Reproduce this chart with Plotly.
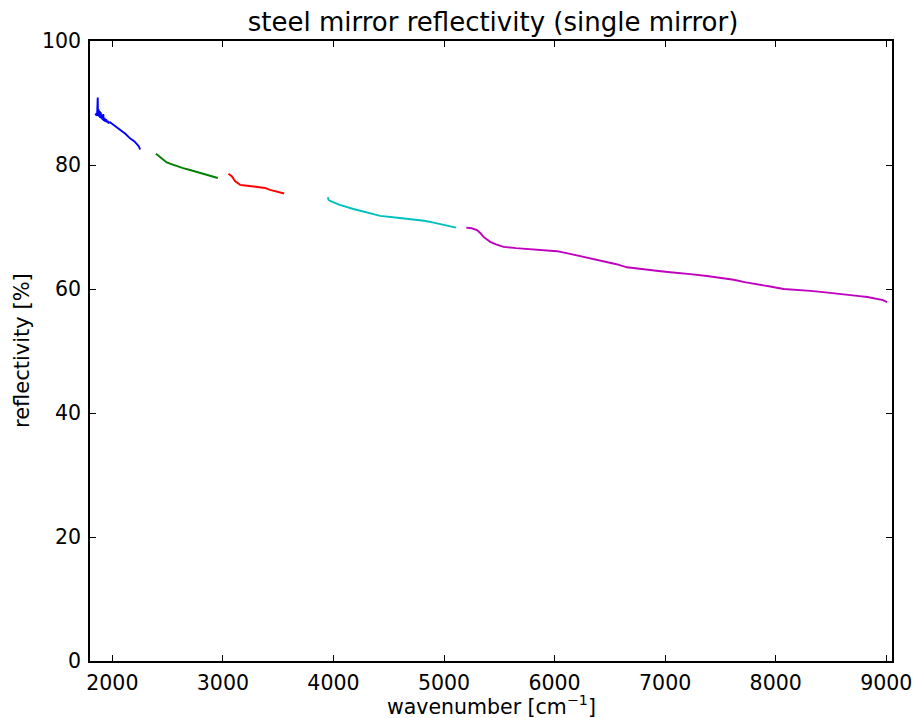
import plotly.graph_objects as go

# wavenumber [cm^-1] and reflectivity [%]
blue_x = [1848, 1852, 1858, 1862, 1868, 1870, 1876, 1880, 1886, 1890, 1896, 1900, 1906, 1910, 1918, 1922, 1930, 1935, 1944, 1950, 1958, 1965, 1979, 2000, 2030, 2070, 2120, 2160, 2200, 2220, 2240, 2251]
blue_y = [88.3, 88.0, 88.4, 87.9, 90.9, 88.0, 89.0, 87.8, 88.7, 87.6, 88.5, 87.5, 88.0, 87.3, 88.2, 87.1, 87.6, 87.0, 87.4, 86.9, 87.1, 86.8, 86.9, 86.6, 86.2, 85.6, 85.0, 84.3, 83.8, 83.4, 83.0, 82.5]

green_x = [2395, 2440, 2492, 2540, 2583, 2640, 2703, 2760, 2824, 2890, 2954]
green_y = [81.8, 81.2, 80.4, 80.1, 79.8, 79.5, 79.2, 78.9, 78.6, 78.3, 77.9]

red_x = [3050, 3080, 3110, 3156, 3200, 3246, 3290, 3337, 3380, 3427, 3490, 3554]
red_y = [78.6, 78.2, 77.4, 76.8, 76.7, 76.6, 76.6, 76.5, 76.3, 76.0, 75.7, 75.4]

cyan_x = [3949, 3955, 3970, 4050, 4181, 4300, 4423, 4580, 4725, 4820, 4906, 5000, 5110]
cyan_y = [74.8, 74.4, 74.2, 73.6, 72.9, 72.3, 71.8, 71.5, 71.2, 71.0, 70.7, 70.3, 69.9]

magenta_x = [5201, 5250, 5298, 5330, 5357, 5390, 5418, 5470, 5538, 5650, 5780, 5900, 6021, 6130, 6233, 6350, 6474, 6560, 6655, 6740, 6836, 6940, 7047, 7140, 7228, 7379, 7500, 7620, 7720, 7832, 7950, 8072, 8190, 8314, 8430, 8556, 8650, 8737, 8830, 8918, 8970, 9008]
magenta_y = [69.9, 69.8, 69.5, 69.0, 68.4, 67.9, 67.6, 67.2, 66.8, 66.6, 66.4, 66.2, 66.1, 65.7, 65.3, 64.9, 64.4, 64.0, 63.5, 63.3, 63.1, 62.9, 62.7, 62.6, 62.4, 62.1, 61.8, 61.5, 61.1, 60.8, 60.4, 60.0, 59.9, 59.7, 59.5, 59.3, 59.1, 58.9, 58.7, 58.4, 58.2, 57.9]

series = [
    (blue_x, blue_y, "#0000ff"),
    (green_x, green_y, "#008000"),
    (red_x, red_y, "#ff0000"),
    (cyan_x, cyan_y, "#00bfbf"),
    (magenta_x, magenta_y, "#bf00bf"),
]

x_ticks = [2000, 3000, 4000, 5000, 6000, 7000, 8000, 9000]
y_ticks = [0, 20, 40, 60, 80, 100]

fig = go.Figure()
for xs, ys, c in series:
    fig.add_trace(go.Scatter(x=xs, y=ys, mode="lines", line=dict(color=c, width=1.9),
                             showlegend=False))

font = "DejaVu Sans"
axis_common = dict(showgrid=False, zeroline=False, showline=True, linecolor="black",
                   linewidth=1.5, mirror="ticks", ticks="inside", ticklen=6,
                   tickwidth=1, tickcolor="black", automargin=False,
                   tickfont=dict(family=font, size=20.5, color="black"))

fig.update_layout(
    width=917, height=718,
    margin=dict(l=90, r=25, t=41, b=57),
    paper_bgcolor="white", plot_bgcolor="white",
    title=dict(text="steel mirror reflectivity (single mirror)", x=493 / 917, xanchor="center",
               y=1 - 22 / 718, yanchor="middle",
               font=dict(family=font, size=26, color="black")),
    xaxis=dict(range=[1798, 9052], tickvals=x_ticks, ticklabelstandoff=3, **axis_common),
    yaxis=dict(range=[0, 100], tickvals=y_ticks, ticklabelstandoff=3, **axis_common),
    annotations=[
        dict(text="wavenumber [cm<sup>−1</sup>]", xref="paper", yref="paper",
             x=0.5, y=-44 / 620, xanchor="center", yanchor="middle", showarrow=False,
             font=dict(family=font, size=20.5, color="black")),
        dict(text="reflectivity [%]", xref="paper", yref="paper",
             x=-68 / 802, y=0.5, xanchor="center", yanchor="middle", showarrow=False,
             textangle=-90, font=dict(family=font, size=21, color="black")),
    ],
)

fig.write_html("out.html", config={"displayModeBar": False},
               post_script="document.body.style.margin='0';document.body.style.overflow='hidden';")
